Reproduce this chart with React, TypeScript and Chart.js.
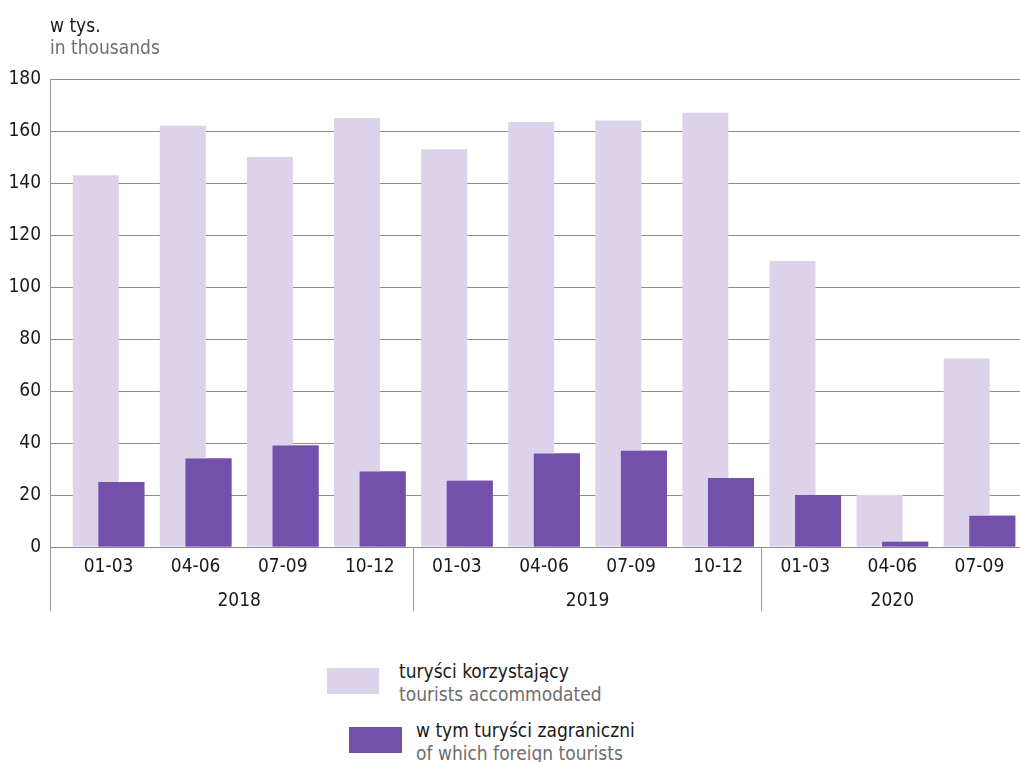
import { useEffect, useRef } from 'react'
import { Chart, registerables } from 'chart.js'

Chart.register(...registerables)

// quarters along the x axis, grouped by year
const quarters = ['01-03', '04-06', '07-09', '10-12', '01-03', '04-06', '07-09', '10-12', '01-03', '04-06', '07-09']
const years = ['2018', '2019', '2020']
const quartersPerYear = [4, 4, 3]

// values in thousands
const touristsAccommodated = [143, 162, 150, 165, 153, 163.5, 164, 167, 110, 20, 72.5]
const foreignTourists = [25, 34, 39, 29, 25.5, 36, 37, 26.5, 20, 2, 12]

const yMax = 180
const yStep = 20

const FONT = "'DejaVu Sans Condensed', 'DejaVu Sans', sans-serif"
const FONT_SIZE = 19
const LIGHT = '#DCD3EA'
const DARK = '#7450AD'
const GRID = '#8c8c8c'
const AXIS = '#9a9a9a'
const TEXT = '#1a1a1a'
const MUTED = '#6e6e6e'
const AXIS_X = 50
const AXIS_BOTTOM = 611

const align = (v: number) => Math.round(v - 0.5) + 0.5

// draws the dark series on top, the left stub of the grid, and the year row
const axisDecor = {
  id: 'axisDecor',
  afterDatasetsDraw(chart: any) {
    chart.getDatasetMeta(1).controller.draw()
  },
  afterDraw(chart: any) {
    const { ctx, chartArea, scales } = chart
    const x = scales.x
    const y = scales.y
    ctx.save()
    ctx.lineWidth = 1
    ctx.strokeStyle = GRID
    y.ticks.forEach((t: any) => {
      const py = align(y.getPixelForValue(t.value))
      ctx.beginPath()
      ctx.moveTo(AXIS_X, py)
      ctx.lineTo(chartArea.left + 1, py)
      ctx.stroke()
    })

    ctx.strokeStyle = AXIS
    ctx.beginPath()
    ctx.moveTo(AXIS_X + 0.5, chartArea.top)
    ctx.lineTo(AXIS_X + 0.5, AXIS_BOTTOM)
    ctx.stroke()

    ctx.fillStyle = TEXT
    ctx.font = `${FONT_SIZE}px ${FONT}`
    ctx.textAlign = 'center'
    ctx.textBaseline = 'middle'
    let start = 0
    quartersPerYear.forEach((n, k) => {
      const end = start + n - 1
      const left = k === 0 ? chartArea.left : (x.getPixelForTick(start - 1) + x.getPixelForTick(start)) / 2
      const right =
        end === quarters.length - 1 ? chartArea.right : (x.getPixelForTick(end) + x.getPixelForTick(end + 1)) / 2
      if (k > 0) {
        const px = align(left)
        ctx.beginPath()
        ctx.moveTo(px, chartArea.bottom)
        ctx.lineTo(px, AXIS_BOTTOM)
        ctx.stroke()
      }
      ctx.fillText(years[k], (left + right) / 2, 601)
      start += n
    })
    ctx.restore()
  },
}

function TouristsChart() {
  const chartRef = useRef<HTMLCanvasElement>(null)
  const chartInstanceRef = useRef<Chart | null>(null)

  useEffect(() => {
    if (!chartRef.current) return
    const ctx = chartRef.current.getContext('2d')
    if (!ctx) return

    chartInstanceRef.current = new Chart(ctx, {
      type: 'bar',
      data: {
        labels: quarters,
        datasets: [
          {
            label: 'turyści korzystający',
            data: touristsAccommodated,
            backgroundColor: LIGHT,
            borderWidth: 0,
            categoryPercentage: 0.587,
            barPercentage: 1.8,
          },
          {
            label: 'w tym turyści zagraniczni',
            data: foreignTourists,
            backgroundColor: DARK,
            borderWidth: 0,
            categoryPercentage: 0.587,
            barPercentage: 1.8,
          },
        ],
      },
      options: {
        responsive: false,
        animation: false,
        layout: { padding: { top: 79, left: 0, right: 0, bottom: 0 } },
        plugins: {
          legend: { display: false },
          tooltip: { enabled: false },
        },
        scales: {
          x: {
            offset: true,
            grid: { display: false, drawTicks: false },
            border: { display: false },
            ticks: { color: TEXT, font: { family: FONT, size: FONT_SIZE }, padding: 9, maxRotation: 0, autoSkip: false },
            afterFit: (scale: any) => {
              scale.height = 78
            },
          },
          y: {
            min: 0,
            max: yMax,
            grid: { color: GRID, lineWidth: 1, drawTicks: false },
            border: { display: false },
            ticks: { stepSize: yStep, color: TEXT, font: { family: FONT, size: FONT_SIZE }, padding: 24 },
            afterFit: (scale: any) => {
              scale.width = 65
            },
          },
        },
      },
      plugins: [axisDecor],
    })

    return () => {
      if (chartInstanceRef.current) {
        chartInstanceRef.current.destroy()
        chartInstanceRef.current = null
      }
    }
  }, [])

  return <canvas ref={chartRef} width={1023} height={625} style={{ position: 'absolute', left: 0, top: 0 }}></canvas>
}

const textStyle = { position: 'absolute' as const, fontFamily: FONT, fontSize: FONT_SIZE, lineHeight: '23px', whiteSpace: 'nowrap' as const }

export default function App() {
  useEffect(() => {
    document.body.style.margin = '0'
  }, [])

  return (
    <div style={{ position: 'relative', width: 1020, height: 762, overflow: 'hidden', background: '#fff' }}>
      <TouristsChart />
      <div style={{ ...textStyle, left: 50, top: 14, lineHeight: '22px' }}>
        <div style={{ color: TEXT }}>w tys.</div>
        <div style={{ color: MUTED }}>in thousands</div>
      </div>

      <div style={{ position: 'absolute', left: 327, top: 668, width: 52, height: 26, background: LIGHT }}></div>
      <div style={{ ...textStyle, left: 399, top: 660 }}>
        <div style={{ color: TEXT }}>turyści korzystający</div>
        <div style={{ color: MUTED }}>tourists accommodated</div>
      </div>

      <div style={{ position: 'absolute', left: 349, top: 727, width: 53, height: 26, background: DARK }}></div>
      <div style={{ ...textStyle, left: 416, top: 719 }}>
        <div style={{ color: TEXT }}>w tym turyści zagraniczni</div>
        <div style={{ color: MUTED }}>of which foreign tourists</div>
      </div>
    </div>
  )
}
